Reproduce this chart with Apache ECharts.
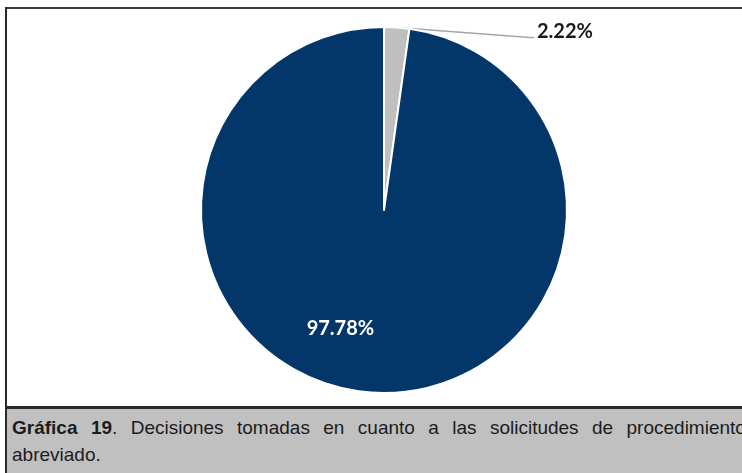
<!DOCTYPE html>
<html>
<head>
<meta charset="utf-8">
<script src="https://cdn.jsdelivr.net/npm/echarts@6/dist/echarts.min.js"></script>
<style>
  html, body { margin:0; padding:0; width:742px; height:473px; overflow:hidden; background:#fff; }
  #chart { position:absolute; left:0; top:0; width:742px; height:407px; }
  .bl { position:absolute; left:5px; top:7px; width:2px; height:466px; background:#2a2a2a; }
  .bt { position:absolute; left:5px; top:7px; width:737px; height:2px; background:#3a3a3a; }
  .bb { position:absolute; left:5px; top:406px; width:737px; height:3px; background:#2a2a2a; }
  #cap { position:absolute; left:7px; top:409px; width:735px; height:64px; background:#c0c0c0; }
  #capText { position:absolute; left:5px; top:5px; width:734px; font-family:"Liberation Sans", Arial, sans-serif; font-size:19px; color:#1c1c1c; line-height:27px; }
  .l1 { white-space:nowrap; display:flex; justify-content:space-between; }
</style>
</head>
<body>
<div class="bt"></div>
<div id="chart"></div>
<div id="cap"><div id="capText"></div></div>
<div class="bl"></div>
<div class="bb"></div>
<script>
const categories = ['Otra decisión', 'Procedimiento abreviado'];
const values = [2.22, 97.78];
const sliceColors = ['#bfbfbf', '#043769'];
const captionBold = 'Gráfica 19';
const captionLine1 = '. Decisiones tomadas en cuanto a las solicitudes de procedimiento';
const captionLine2 = 'abreviado.';

// caption (real text)
const capText = document.getElementById('capText');
const words1 = captionLine1.trim().split(' ');
const line1 = document.createElement('div');
line1.className = 'l1';
const boldWords = captionBold.split(' ');
boldWords.forEach((w, i) => {
  const s = document.createElement('span');
  if (i === boldWords.length - 1) {
    s.innerHTML = '<b>' + w + '</b>' + words1[0];
  } else {
    s.innerHTML = '<b>' + w + '</b>';
  }
  line1.appendChild(s);
});
words1.slice(1).forEach(w => {
  const s = document.createElement('span');
  s.textContent = w;
  line1.appendChild(s);
});
capText.appendChild(line1);
const line2 = document.createElement('div');
line2.textContent = captionLine2;
capText.appendChild(line2);

const chart = echarts.init(document.getElementById('chart'), null, {renderer:'canvas'});
chart.setOption({
  animation: false,
  backgroundColor: 'transparent',
  series: [{
    type: 'pie',
    center: [384, 210],
    radius: 183,
    startAngle: 90,
    clockwise: true,
    itemStyle: { borderColor: '#ffffff', borderWidth: 2 },
    data: categories.map((c, i) => ({
      name: c,
      value: values[i],
      itemStyle: { color: sliceColors[i] },
      label: i === 0 ? {
        show: true, position: 'outside',
        formatter: p => '{v|' + p.value.toFixed(2) + '%}\n{s|}',
        rich: {
          v: { fontFamily: 'Lato', fontWeight: 'bold', fontSize: 20, color: '#1a1a1a', lineHeight: 24, padding: [0, 0, 0, 3] },
          s: { lineHeight: 10, fontSize: 8 }
        }
      } : {
        show: true, position: 'inside',
        formatter: p => p.value.toFixed(2) + '%',
        fontFamily: 'Lato', fontWeight: 'bold', fontSize: 20, color: '#ffffff'
      },
      labelLine: i === 0 ? { show: true, length: 8, length2: 4, lineStyle: { color: '#a6a6a6', width: 1.5 } } : { show: false }
    })),
    labelLayout: function (params) {
      if (params.dataIndex === 0) {
        return { x: 534, y: 37, align: 'left', verticalAlign: 'middle' };
      }
      return { dx: -37, dy: 24 };
    }
  }]
});
</script>
</body>
</html>
